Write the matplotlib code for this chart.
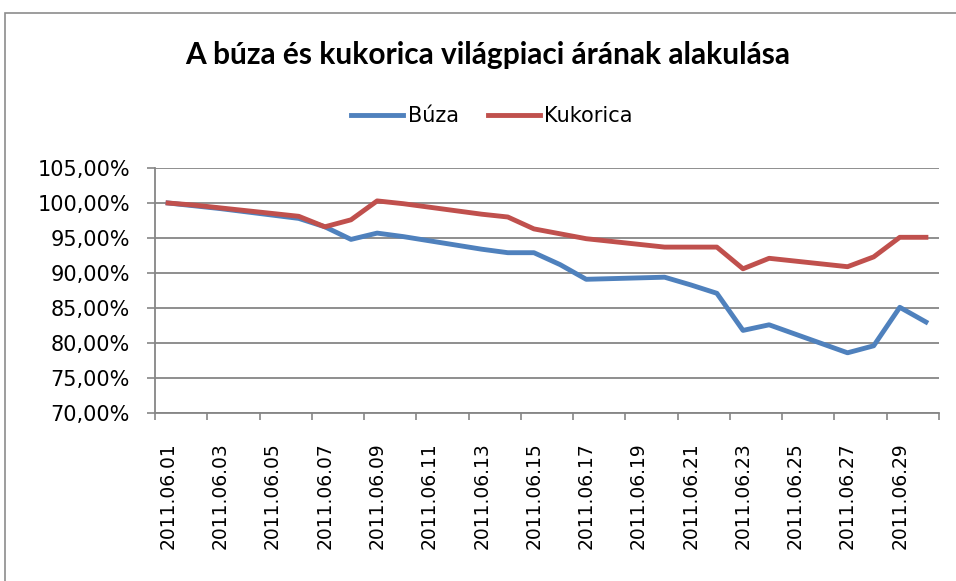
import matplotlib
matplotlib.use("Agg")
import matplotlib.pyplot as plt
from matplotlib.patches import Rectangle
from matplotlib.ticker import FuncFormatter

# trading days of June 2011 (day of month)
days = [1, 2, 3, 6, 7, 8, 9, 10, 13, 14, 15, 16, 17, 20, 21, 22, 23, 24, 27, 28, 29, 30]
buza = [100.0, 99.6, 99.2, 97.8, 96.6, 94.8, 95.7, 95.2, 93.4, 92.9, 92.9, 91.2, 89.1,
        89.4, 88.3, 87.1, 81.8, 82.6, 78.6, 79.6, 85.1, 83.0]
kukorica = [100.0, 99.7, 99.3, 98.1, 96.6, 97.6, 100.3, 99.9, 98.4, 98.0, 96.3, 95.6, 94.9,
            93.7, 93.7, 93.7, 90.6, 92.1, 90.9, 92.3, 95.1, 95.1]
label_days = list(range(1, 30, 2))
tick_labels = ["2011.06.%02d" % d for d in label_days]
yticks = [70, 75, 80, 85, 90, 95, 100, 105]

blue = "#4F81BD"
red = "#C0504D"
grid = "#868686"

fig = plt.figure(figsize=(9.56, 5.81), dpi=100)
fig.patches.append(Rectangle((5 / 956, -0.1), 1.2, 1.1 - 13 / 581, transform=fig.transFigure,
                             fill=False, edgecolor="#8c8c8c", linewidth=1.2))
ax = fig.add_axes([155 / 956, 1 - 413 / 581, (939 - 155) / 956, (413 - 168) / 581])

ax.plot(days, buza, color=blue, linewidth=3.5, label="Búza", solid_joinstyle="round")
ax.plot(days, kukorica, color=red, linewidth=3.5, label="Kukorica", solid_joinstyle="round")

ax.set_xlim(0.5, 30.5)
ax.set_ylim(70, 105)
ax.set_yticks(yticks)
ax.yaxis.set_major_formatter(FuncFormatter(lambda v, p: ("%.2f%%" % v).replace(".", ",")))
ax.set_xticks([d + 0.5 for d in range(0, 31, 2)])
ax.set_xticklabels([])
ax.set_xticks(label_days, minor=True)
ax.set_xticklabels(tick_labels, minor=True, rotation=90, fontsize=13.5, family="DejaVu Sans")
ax.tick_params(axis="x", which="minor", length=0, pad=21)
ax.tick_params(axis="x", which="major", length=5, color=grid, width=1.2)
ax.tick_params(axis="y", length=6, color=grid, width=1.2, labelsize=15, pad=12)

ax.grid(axis="y", color=grid, linewidth=1.3)
ax.set_axisbelow(True)
for s in ["top", "right"]:
    ax.spines[s].set_visible(False)
ax.spines["left"].set_color(grid)
ax.spines["bottom"].set_color(grid)
ax.spines["left"].set_linewidth(1.3)
ax.spines["bottom"].set_linewidth(1.3)

fig.text(488 / 956, 1 - 55 / 581, "A búza és kukorica világpiaci árának alakulása",
         ha="center", va="center", fontsize=21.5, fontweight="bold", family="Lato")
fig.legend(loc="center", bbox_to_anchor=(492 / 956, 1 - 116 / 581), ncol=2, frameon=False,
           prop={"family": "DejaVu Sans", "size": 15}, handlelength=2.5, handletextpad=0.2,
           columnspacing=1.4)

fig.savefig("out.png", dpi=100, facecolor="white")
